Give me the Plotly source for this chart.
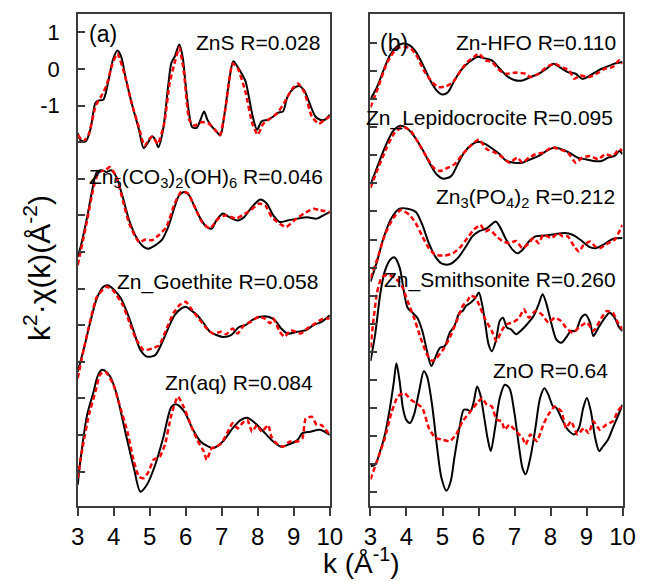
import plotly.graph_objects as go

# ---------------- data (k in 1/Angstrom, stacked k^2 chi(k) with offsets) ----------------
# Panel (a)
ZNS_K_EXP = [3.0,3.08,3.22,3.35,3.49,3.58,3.71,3.84,3.98,4.10,4.20,4.34,4.52,4.70,4.83,4.97,5.06,5.15,5.24,5.37,5.51,5.60,5.70,5.82,5.91,6.00,6.09,6.18,6.30,6.41,6.51,6.60,6.72,6.85,6.96,7.08,7.21,7.32,7.43,7.57,7.66,7.75,7.86,7.98,8.11,8.29,8.43,8.56,8.70,8.83,9.01,9.15,9.28,9.42,9.60,9.73,9.86,10.0]
ZNS_Y_EXP = [-1.75,-1.95,-1.98,-1.66,-0.93,-0.86,-0.84,-0.38,0.26,0.50,0.35,-0.29,-1.02,-1.66,-2.16,-1.98,-1.84,-1.93,-2.14,-1.66,-0.47,0.16,0.35,0.67,0.35,-0.47,-1.20,-1.59,-1.61,-1.39,-1.16,-1.39,-1.57,-1.71,-1.82,-1.20,-0.29,0.21,0.07,-0.16,-0.34,-0.75,-1.30,-1.66,-1.43,-1.39,-1.30,-1.20,-1.16,-0.75,-0.52,-0.47,-0.57,-0.89,-1.30,-1.39,-1.39,-1.25]
ZNS_K_FIT = [3.0,3.15,3.3,3.5,3.65,3.8,3.95,4.1,4.3,4.5,4.7,4.85,5.0,5.08,5.22,5.4,5.55,5.7,5.82,5.95,6.1,6.25,6.45,6.65,6.8,6.95,7.1,7.3,7.45,7.65,7.85,8.0,8.15,8.35,8.55,8.75,8.95,9.12,9.3,9.5,9.7,9.85,10.0]
ZNS_Y_FIT = [-1.8,-1.98,-1.8,-1.0,-0.75,-0.45,0.1,0.42,-0.15,-0.95,-1.6,-2.1,-1.9,-1.85,-2.05,-1.5,-0.4,0.2,0.58,-0.1,-1.4,-1.55,-1.45,-1.5,-1.65,-1.8,-1.1,0.15,0.0,-0.6,-1.5,-1.8,-1.5,-1.35,-1.2,-0.9,-0.55,-0.4,-0.65,-1.3,-1.5,-1.4,-1.3]

HZ_K_EXP = [3.0,3.08,3.26,3.40,3.53,3.66,3.80,3.93,4.07,4.25,4.43,4.65,4.83,4.97,5.15,5.33,5.51,5.69,5.82,5.96,6.09,6.23,6.41,6.58,6.72,6.85,7.03,7.21,7.44,7.62,7.84,8.07,8.25,8.43,8.61,8.83,9.10,9.37,9.64,9.82,10.0]
HZ_Y_EXP = [-5.14,-4.86,-4.05,-3.32,-2.82,-2.77,-2.82,-2.77,-2.95,-3.50,-4.14,-4.64,-4.86,-4.91,-4.82,-4.68,-4.32,-3.77,-3.45,-3.36,-3.45,-3.73,-4.09,-4.32,-4.36,-4.14,-3.95,-4.05,-4.14,-4.05,-3.77,-3.57,-3.68,-4.0,-4.18,-4.14,-4.09,-4.05,-4.09,-4.0,-3.91]
HZ_K_FIT = [3.0,3.26,3.44,3.58,3.76,3.89,4.07,4.43,4.70,4.88,5.06,5.24,5.46,5.69,5.87,6.05,6.27,6.45,6.67,6.90,7.12,7.39,7.57,7.80,8.03,8.21,8.39,8.61,8.79,9.01,9.28,9.55,9.73,10.0]
HZ_Y_FIT = [-5.36,-4.14,-3.23,-2.82,-2.77,-2.68,-2.95,-4.23,-4.73,-4.66,-4.68,-4.55,-4.32,-3.68,-3.36,-3.39,-3.82,-4.18,-4.36,-4.09,-4.0,-4.09,-4.0,-3.86,-3.68,-3.73,-4.05,-4.23,-4.32,-4.14,-3.95,-3.82,-3.86,-3.91]

GOE_K_EXP = [3.0,3.17,3.35,3.53,3.71,3.84,4.02,4.20,4.38,4.56,4.74,4.92,5.15,5.33,5.51,5.69,5.87,6.0,6.14,6.32,6.50,6.67,6.85,7.03,7.26,7.48,7.66,7.84,8.07,8.29,8.47,8.65,8.83,9.10,9.33,9.55,9.77,10.0]
GOE_Y_EXP = [-8.27,-7.64,-6.91,-6.27,-5.95,-5.91,-6.05,-6.27,-6.68,-7.18,-7.68,-7.86,-7.82,-7.5,-7.09,-6.73,-6.55,-6.5,-6.59,-6.73,-6.95,-7.18,-7.27,-7.32,-7.27,-7.05,-7.0,-6.86,-6.77,-6.77,-6.86,-7.09,-7.23,-7.18,-7.14,-7.0,-6.91,-6.73]
GOE_K_FIT = [3.0,3.17,3.53,3.8,3.98,4.25,4.43,4.61,4.83,5.06,5.26,5.47,5.65,5.83,6.0,6.18,6.36,6.58,6.76,6.99,7.12,7.30,7.44,7.62,7.80,8.02,8.20,8.34,8.43,8.61,8.74,8.92,9.19,9.37,9.60,9.82,10.0]
GOE_Y_FIT = [-8.45,-7.64,-6.23,-5.95,-6.05,-6.45,-6.91,-7.36,-7.68,-7.64,-7.55,-7.09,-6.68,-6.45,-6.36,-6.59,-6.82,-7.09,-7.23,-7.18,-7.25,-7.09,-7.23,-7.0,-6.91,-6.77,-6.82,-6.95,-6.82,-7.18,-7.32,-7.14,-7.23,-7.09,-6.95,-6.82,-6.82]

AQ_K_EXP = [3.0,3.08,3.26,3.44,3.55,3.67,3.8,3.91,4.07,4.34,4.56,4.74,4.92,5.15,5.37,5.60,5.73,5.96,6.18,6.41,6.63,6.76,7.03,7.30,7.53,7.71,7.93,8.20,8.43,8.65,8.83,9.10,9.24,9.46,9.73,10.0]
AQ_Y_EXP = [-11.36,-10.64,-9.45,-8.82,-8.4,-8.22,-8.28,-8.42,-8.85,-10.0,-10.91,-11.55,-11.36,-10.82,-10.09,-9.23,-9.16,-9.36,-9.82,-10.18,-10.32,-10.36,-10.18,-9.82,-9.59,-9.53,-9.68,-9.95,-10.18,-10.32,-10.27,-10.14,-9.95,-9.91,-9.86,-10.0]
AQ_K_FIT = [3.0,3.13,3.31,3.49,3.62,3.76,3.98,4.16,4.38,4.56,4.70,4.83,4.97,5.1,5.28,5.42,5.6,5.78,5.96,6.14,6.32,6.5,6.58,6.72,6.85,6.99,7.17,7.30,7.44,7.57,7.71,7.84,7.98,8.11,8.29,8.38,8.52,8.70,8.88,9.10,9.24,9.33,9.5,9.64,9.77,10.0]
AQ_Y_FIT = [-11.18,-10.36,-9.45,-8.82,-8.35,-8.27,-8.6,-9.18,-9.91,-10.73,-11.14,-11.18,-11.0,-10.68,-10.59,-10.27,-9.45,-8.95,-9.27,-9.73,-10.14,-10.45,-10.68,-10.36,-10.32,-10.23,-9.91,-9.68,-9.82,-9.68,-9.59,-9.91,-9.73,-9.91,-9.73,-10.05,-10.23,-10.32,-10.18,-10.18,-10.09,-9.55,-9.5,-9.73,-9.73,-10.0]

# Panel (b)
HFO_K_EXP = [3.0,3.18,3.36,3.54,3.72,3.9,4.08,4.26,4.44,4.66,4.84,4.99,5.15,5.33,5.51,5.74,5.96,6.14,6.37,6.59,6.77,6.99,7.22,7.44,7.67,7.89,8.07,8.25,8.48,8.70,8.88,9.10,9.33,9.55,9.78,10.0]
HFO_Y_EXP = [-1.99,-1.57,-0.97,-0.43,-0.13,-0.01,-0.07,-0.31,-0.73,-1.33,-1.69,-1.83,-1.75,-1.33,-0.97,-0.67,-0.49,-0.53,-0.61,-0.91,-1.15,-1.31,-1.33,-1.21,-1.09,-0.91,-0.73,-0.85,-1.03,-1.09,-1.27,-1.15,-0.97,-0.85,-0.73,-0.67]
HFO_K_FIT = [3.0,3.18,3.45,3.72,3.94,4.12,4.30,4.48,4.71,4.89,5.11,5.29,5.51,5.69,5.87,6.01,6.19,6.37,6.59,6.77,7.04,7.31,7.44,7.67,7.89,8.12,8.30,8.52,8.66,8.83,9.06,9.28,9.51,9.73,9.91,10.0]
HFO_Y_FIT = [-2.29,-1.69,-0.73,-0.19,-0.13,-0.19,-0.49,-0.97,-1.39,-1.57,-1.53,-1.39,-0.97,-0.67,-0.49,-0.37,-0.61,-0.67,-0.97,-1.09,-1.05,-1.09,-1.21,-1.09,-0.85,-0.73,-0.85,-0.97,-1.27,-1.15,-1.21,-1.09,-0.91,-0.85,-0.61,-0.73]

LEP_K_EXP = [3.0,3.18,3.40,3.63,3.81,3.99,4.21,4.44,4.66,4.84,5.02,5.24,5.42,5.6,5.83,6.01,6.19,6.41,6.59,6.77,6.99,7.22,7.44,7.67,7.89,8.12,8.3,8.52,8.75,8.97,9.19,9.42,9.6,9.78,9.91,10.0]
LEP_Y_EXP = [-5.04,-4.44,-3.72,-3.13,-2.95,-3.01,-3.31,-3.78,-4.32,-4.68,-4.83,-4.74,-4.32,-3.9,-3.6,-3.51,-3.6,-3.78,-3.96,-4.2,-4.26,-4.26,-4.14,-4.02,-3.84,-3.72,-3.78,-3.9,-4.08,-4.14,-4.2,-4.2,-4.08,-4.02,-3.84,-3.96]
LEP_K_FIT = [3.0,3.18,3.45,3.67,3.9,4.12,4.35,4.57,4.75,4.93,5.15,5.33,5.56,5.78,6.01,6.23,6.46,6.68,6.86,7.08,7.22,7.4,7.58,7.8,8.03,8.25,8.48,8.7,8.88,9.1,9.33,9.51,9.73,9.91,10.0]
LEP_Y_FIT = [-5.16,-4.56,-3.72,-3.19,-2.98,-3.13,-3.6,-4.08,-4.44,-4.56,-4.44,-4.32,-3.96,-3.66,-3.43,-3.78,-3.9,-4.08,-4.26,-4.08,-4.26,-4.08,-3.96,-3.9,-3.72,-3.78,-3.9,-4.26,-4.08,-4.02,-4.14,-3.96,-4.02,-3.78,-3.84]

PO4_K_EXP = [3.0,3.18,3.36,3.58,3.81,4.03,4.26,4.44,4.62,4.8,4.97,5.2,5.42,5.65,5.83,6.01,6.23,6.37,6.48,6.59,6.77,6.95,7.08,7.22,7.4,7.58,7.85,8.12,8.39,8.61,8.83,9.06,9.24,9.46,9.73,10.0]
PO4_Y_EXP = [-8.5,-7.79,-6.95,-6.24,-5.9,-5.9,-6.02,-6.48,-7.13,-7.61,-7.85,-7.88,-7.67,-7.25,-6.89,-6.71,-6.6,-6.45,-6.36,-6.54,-7.01,-7.37,-7.49,-7.37,-7.07,-6.89,-6.86,-6.81,-6.77,-6.83,-7.01,-7.25,-7.31,-7.19,-6.98,-6.95]
PO4_K_FIT = [3.0,3.18,3.4,3.63,3.85,4.08,4.26,4.44,4.62,4.8,5.06,5.29,5.51,5.69,5.87,6.05,6.19,6.32,6.5,6.68,6.86,7.04,7.22,7.4,7.53,7.67,7.8,8.03,8.21,8.34,8.48,8.66,8.79,8.92,9.1,9.24,9.37,9.6,9.78,10.0]
PO4_Y_FIT = [-8.38,-7.73,-6.83,-6.24,-5.94,-6.12,-6.42,-6.89,-7.31,-7.55,-7.57,-7.49,-7.25,-6.95,-6.65,-6.48,-6.71,-6.65,-6.89,-7.07,-7.13,-7.05,-7.31,-7.13,-6.95,-7.13,-6.83,-6.95,-6.77,-6.89,-6.89,-7.25,-7.43,-7.19,-7.07,-7.25,-7.31,-7.13,-7.01,-6.48]

SMI_K_EXP = [3.0,3.13,3.27,3.40,3.56,3.67,3.81,3.94,4.03,4.17,4.3,4.44,4.57,4.69,4.8,4.93,5.06,5.2,5.33,5.47,5.56,5.65,5.78,5.92,6.01,6.1,6.19,6.28,6.37,6.48,6.59,6.68,6.79,6.9,7.04,7.17,7.35,7.53,7.67,7.78,7.89,8.03,8.16,8.3,8.43,8.57,8.7,8.85,8.97,9.1,9.19,9.33,9.51,9.64,9.78,9.91,10.0]
SMI_Y_EXP = [-11.33,-10.38,-8.95,-8.12,-7.7,-7.64,-8.0,-8.95,-9.43,-9.61,-9.79,-10.26,-10.98,-11.51,-11.21,-10.86,-10.8,-10.32,-10.08,-9.61,-9.55,-9.37,-9.25,-9.07,-8.89,-9.31,-10.02,-10.74,-10.98,-10.62,-9.9,-9.79,-10.14,-10.2,-10.38,-10.26,-10.02,-9.73,-9.31,-8.95,-9.31,-10.02,-10.56,-10.68,-10.5,-10.26,-10.26,-9.79,-9.67,-9.96,-10.44,-10.14,-9.79,-9.61,-9.79,-10.14,-10.26]
SMI_K_FIT = [3.0,3.08,3.18,3.31,3.49,3.67,3.85,4.03,4.21,4.39,4.57,4.71,4.84,5.02,5.2,5.38,5.56,5.69,5.78,5.92,6.05,6.19,6.37,6.5,6.64,6.77,6.95,7.13,7.26,7.4,7.58,7.76,7.94,8.12,8.3,8.43,8.61,8.79,9.01,9.19,9.37,9.55,9.73,9.87,10.0]
SMI_Y_FIT = [-10.85,-9.9,-8.9,-8.35,-8.25,-8.36,-8.6,-9.19,-9.79,-10.5,-11.1,-11.33,-11.21,-10.92,-10.5,-9.96,-9.37,-9.19,-9.01,-9.07,-9.43,-9.85,-10.26,-10.62,-10.26,-10.02,-9.96,-9.79,-9.49,-9.79,-9.55,-9.67,-9.96,-9.79,-9.91,-10.14,-10.32,-10.14,-9.96,-10.26,-9.9,-9.55,-9.61,-9.96,-10.2]

ZNO_K_EXP = [3.0,3.13,3.27,3.4,3.54,3.65,3.72,3.81,3.9,3.99,4.1,4.21,4.35,4.48,4.57,4.71,4.84,4.97,5.11,5.23,5.33,5.47,5.59,5.69,5.78,5.87,5.96,6.05,6.16,6.25,6.34,6.46,6.59,6.73,6.86,6.99,7.13,7.22,7.31,7.44,7.58,7.71,7.83,7.94,8.07,8.16,8.3,8.48,8.65,8.79,8.91,9.01,9.12,9.24,9.35,9.46,9.6,9.73,9.87,10.0]
ZNO_Y_EXP = [-15.08,-15.02,-14.54,-13.95,-13.0,-12.06,-11.41,-12.06,-13.0,-13.42,-13.54,-13.24,-12.41,-11.7,-11.88,-12.89,-14.31,-15.49,-15.96,-15.61,-14.78,-13.72,-13.07,-13.07,-13.12,-12.77,-12.24,-12.53,-13.36,-14.07,-14.54,-13.72,-12.65,-12.18,-12.3,-13.12,-14.43,-15.14,-15.37,-14.78,-13.72,-12.65,-12.3,-12.53,-12.95,-13.0,-13.36,-13.78,-13.95,-13.72,-13.0,-12.65,-13.12,-14.07,-14.54,-14.37,-14.13,-13.72,-13.3,-12.89]
ZNO_K_FIT = [3.0,3.18,3.4,3.58,3.76,3.94,4.12,4.26,4.44,4.62,4.8,4.97,5.2,5.38,5.56,5.78,5.96,6.1,6.23,6.37,6.5,6.64,6.73,6.86,7.04,7.22,7.31,7.44,7.62,7.8,7.94,8.12,8.3,8.43,8.57,8.75,8.93,9.06,9.19,9.37,9.55,9.73,9.87,10.0]
ZNO_Y_FIT = [-15.55,-14.9,-14.07,-13.18,-12.59,-12.47,-12.71,-12.83,-13.0,-13.72,-14.07,-14.13,-14.19,-13.95,-13.48,-13.12,-12.83,-12.65,-12.89,-12.95,-13.42,-13.48,-13.78,-13.6,-13.83,-14.07,-14.31,-13.95,-14.19,-13.6,-13.24,-12.95,-13.12,-13.72,-13.48,-13.95,-13.72,-13.9,-13.48,-13.78,-13.6,-13.48,-13.12,-12.89]

LEFT_LABELS = ["ZnS R=0.028",
               "Zn<sub>5</sub>(CO<sub>3</sub>)<sub>2</sub>(OH)<sub>6</sub> R=0.046",
               "Zn_Goethite R=0.058",
               "Zn(aq) R=0.084"]
RIGHT_LABELS = ["Zn-HFO R=0.110",
                "Zn_Lepidocrocite R=0.095",
                "Zn<sub>3</sub>(PO<sub>4</sub>)<sub>2</sub> R=0.212",
                "Zn_Smithsonite R=0.260",
                "ZnO R=0.64"]
K_TICKS = [3, 4, 5, 6, 7, 8, 9, 10]
LEFT_YTICKS = [1, 0, -1, -2, -3, -4, -5, -6, -7, -8, -9, -10, -11]
LEFT_YLABEL_VALS = [1, 0, -1]
LEFT_YLABEL_TEXT = ["1", "0", "-1"]
RIGHT_YTICKS = [0, -1, -2, -3, -4, -5, -6, -7, -8, -9, -10, -11, -12, -13, -14, -15, -16]

# ---------------- figure ----------------
W, H = 652, 581
FONT = "Arial, Liberation Sans, sans-serif"
AXC = "#3c3c3c"

def fx(p):
    return p / W

def fy(p):
    return 1 - p / H

fig = go.Figure()

left = [(ZNS_K_EXP, ZNS_Y_EXP, ZNS_K_FIT, ZNS_Y_FIT),
        (HZ_K_EXP, HZ_Y_EXP, HZ_K_FIT, HZ_Y_FIT),
        (GOE_K_EXP, GOE_Y_EXP, GOE_K_FIT, GOE_Y_FIT),
        (AQ_K_EXP, AQ_Y_EXP, AQ_K_FIT, AQ_Y_FIT)]
right = [(HFO_K_EXP, HFO_Y_EXP, HFO_K_FIT, HFO_Y_FIT),
         (LEP_K_EXP, LEP_Y_EXP, LEP_K_FIT, LEP_Y_FIT),
         (PO4_K_EXP, PO4_Y_EXP, PO4_K_FIT, PO4_Y_FIT),
         (SMI_K_EXP, SMI_Y_EXP, SMI_K_FIT, SMI_Y_FIT),
         (ZNO_K_EXP, ZNO_Y_EXP, ZNO_K_FIT, ZNO_Y_FIT)]

for group, xa, ya in ((left, "x", "y"), (right, "x2", "y2")):
    for ke, ye, kf, yf in group:
        fig.add_trace(go.Scatter(x=ke, y=ye, mode="lines", xaxis=xa, yaxis=ya,
                                 line=dict(color="black", width=2, shape="spline", smoothing=0.8),
                                 showlegend=False, hoverinfo="skip"))
    for ke, ye, kf, yf in group:
        fig.add_trace(go.Scatter(x=kf, y=yf, mode="lines", xaxis=xa, yaxis=ya,
                                 line=dict(color="#ff0000", width=2.5, dash="5px,3px",
                                           shape="spline", smoothing=0.5),
                                 showlegend=False, hoverinfo="skip"))

ydom = [fy(506), fy(14)]
LEFT_RANGE = [-11.94, 1.50]
common_x = dict(range=[3, 10], tickvals=K_TICKS, ticks="outside", ticklen=8, tickwidth=1.5,
                tickcolor=AXC, showline=True, linecolor=AXC, linewidth=1.5, mirror=True,
                showgrid=False, zeroline=False, tickfont=dict(family=FONT, size=24, color="black"))
fig.update_layout(
    width=W, height=H, margin=dict(l=0, r=0, t=0, b=0),
    paper_bgcolor="white", plot_bgcolor="white",
    xaxis=dict(domain=[fx(73), fx(333)], anchor="y", **common_x),
    xaxis2=dict(domain=[fx(375), fx(635)], anchor="y2", **common_x),
    yaxis=dict(domain=ydom, anchor="x", range=LEFT_RANGE, tickvals=LEFT_YTICKS,
               showticklabels=False, ticks="inside", ticklen=7, tickwidth=1.5, tickcolor=AXC,
               showline=True, linecolor=AXC, linewidth=1.5, mirror=True, showgrid=False,
               zeroline=False),
    yaxis3=dict(domain=ydom, anchor="x", overlaying="y", side="left", range=LEFT_RANGE,
                tickvals=LEFT_YLABEL_VALS, ticktext=LEFT_YLABEL_TEXT, ticks="",
                showline=False, showgrid=False, zeroline=False, ticklabelstandoff=17,
                tickfont=dict(family=FONT, size=22, color="black")),
    yaxis2=dict(domain=ydom, anchor="x2", range=[-16.5, 1.04], tickvals=RIGHT_YTICKS,
                showticklabels=False, ticks="inside", ticklen=7, tickwidth=1.5, tickcolor=AXC,
                showline=True, linecolor=AXC, linewidth=1.5, mirror=True, showgrid=False,
                zeroline=False),
)
# invisible carrier so the label axis is drawn
fig.add_trace(go.Scatter(x=[None], y=[None], xaxis="x", yaxis="y3", showlegend=False,
                         hoverinfo="skip"))

ann = []
left_pos = [(325, 43), (328, 178), (323, 282), (318, 382)]
right_pos = [(630, 42), (627, 118), (629, 198), (630, 280), (622, 370)]
for txt, (xr, yc) in zip(LEFT_LABELS, left_pos):
    ann.append(dict(text=txt, x=fx(xr), y=fy(yc), xanchor="right", yanchor="middle",
                    font=dict(family=FONT, size=21, color="black")))
for txt, (xr, yc) in zip(RIGHT_LABELS, right_pos):
    ann.append(dict(text=txt, x=fx(xr), y=fy(yc), xanchor="right", yanchor="middle",
                    font=dict(family=FONT, size=21, color="black")))
ann.append(dict(text="(a)", x=fx(83), y=fy(34), xanchor="left", yanchor="middle",
                font=dict(family=FONT, size=23, color="black")))
ann.append(dict(text="(b)", x=fx(383), y=fy(43), xanchor="left", yanchor="middle",
                font=dict(family=FONT, size=23, color="black")))
for a in ann:
    a.update(xref="paper", yref="paper", showarrow=False)
ann.append(dict(text="k<sup>2</sup>·χ(k)(Å<sup>-2</sup>)", x=fx(31), y=fy(268),
                xref="paper", yref="paper", showarrow=False, textangle=-90,
                xanchor="center", yanchor="middle",
                font=dict(family=FONT, size=30, color="black")))
ann.append(dict(text="k (Å<sup>-1</sup>)", x=fx(366), y=fy(581),
                xref="paper", yref="paper", showarrow=False,
                xanchor="center", yanchor="bottom",
                font=dict(family=FONT, size=28, color="black")))
fig.update_layout(annotations=ann)

fig.write_html("out.html")
